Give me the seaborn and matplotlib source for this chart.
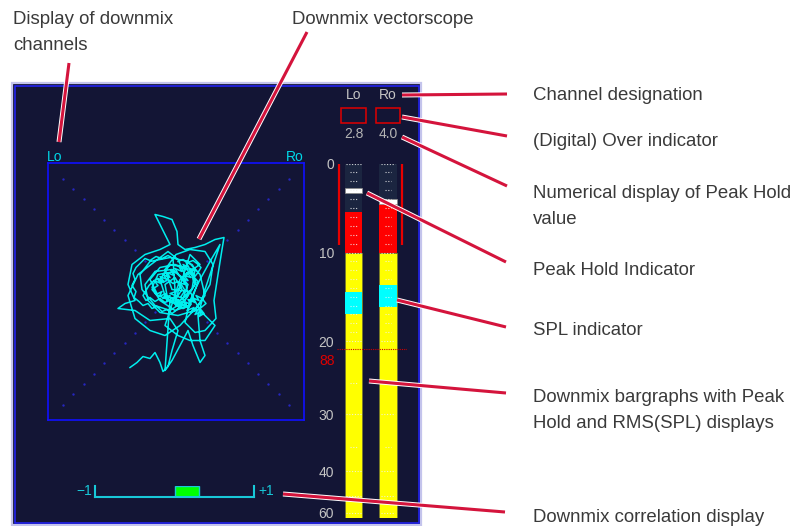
import numpy as np
import matplotlib
matplotlib.use("Agg")
import matplotlib.pyplot as plt
import matplotlib.transforms as mtransforms
import matplotlib.patheffects as pe
from matplotlib.patches import Rectangle
from matplotlib.ticker import NullLocator
import seaborn as sns

W, H = 795, 526

# bargraph (dB below full scale)
channels = ["Lo", "Ro"]
level_db = [5.5, 4.6]          # top of lit bar
peak_hold_db = [2.8, 4.0]
peak_hold_text = ["2.8", "4.0"]
spl_db = [14.5, 13.7]          # SPL (RMS) marker
ref_db = 21.0
ref_label = "88"
scale_ticks = [0, 10, 20, 30, 40, 60]
long_marks = [0, 10, 20, 30, 40, 50, 60]
short_marks = [1, 2, 3, 4, 5, 6, 7, 8, 9, 11, 12, 13, 14, 15, 16, 17, 18, 19, 25, 35]
correlation = 0.31

# vectorscope trace, scope units (full scale +-128)
trace_x = [-46, -39, -33, -26, -21, -16, -13, -8, -4, 2, -6, -26, -41, -58, -51,
           -41, -48, -44, -31, -16, -6, -11, -16, -21, -13, -4, 1, 2, 9, 19,
           29, 39, 48, 46, 42, 38, 40, 29, 19, 9, 14, 24, 34, 44, 39,
           29, 22, 24, 29, 24, 17, 12, 4, -4, -11,
           -6, -18, -26, -16, -1, 14, 19, 9, -6, -21, -34, -36, -26, -6, 12,
           24, 29, 19, 2, -16, -28, -31, -21, -4, 9, 12, 4, -8, -11, -1,
           6, 0, 14, 24, 9, 2, -8, -21, -38, -48, -41, -26, -11, 4, 22,
           34, 37, 29, 14, 0, -11, -4, 14, 24, 39, 29, 14, 2, -11,
           4, 19, 16, 4, -11, -16, -6, 9, 22, 14, -1, -16, -24, -18, -1, 12, 7, -6,
           0, 5, 3, 9, 6, 12, 8, 15, 11, 18, 14, 20, 16, 10, 13, 7, 10, 3, 6, -1,
           2, -5, -2, -9, -6, -13, -9, -16, -12, -19, -15, -22, -18, -24, -20, -14, -17, -10, -13, -6,
           -9, -2, -5, 2, -1, 6, 3, 10, 7, 14, 11, 18, 15, 22, 19, 26, 23, 28, 24, 30,
           26, 20, 23, 16, 19, 12, 15, 8, 11, 4, 7, 0,
           -3, -8, -14, -20, -26, -31, -36, -40, -43, -41, -44, -40, -42, -37, -33, -28, -24, -19, -14, -9,
           -4, 0, 4, 8, 5, 9, 6, 2, -3, -8, -13, -18, -23, -27, -30, -33, -30, -26, -21, -16,
           -11, -6, -1, 4, 9, 13, 17, 20, 18, 22, 25, 21, 17, 12, 7, 2]
trace_y = [-76, -71, -65, -67, -61, -71, -80, -75, -59, -39, -27, -29, -19, -17, -12,
           -9, 7, 27, 37, 42, 47, 57, 67, 77, 75, 72, 60, 47, 42, 44,
           47, 52, 54, 42, 17, -9, -27, -39, -41, -31, -9, 12, 30, 47, 32,
           2, -24, -49, -64, -71, -54, -39, -54, -69, -79,
           -9, -4, 12, 24, 27, 22, 7, -9, -19, -14, 2, 17, 30, 34, 30,
           17, -4, -19, -24, -21, -9, 7, 20, 22, 12, -4, -14, -9, 7, 14,
           2, -7, 37, 27, 17, 32, 40, 30, 17, -4, -27, -39, -44, -34, -14,
           7, 27, 40, 42, 37, 22, 2, 0, -19, -34, -49, -49, -44, -34,
           12, 22, 2, -9, -4, 12, 27, 24, 10, -14, -19, -9, 4, 17, 20, 7, -7, -2,
           0, 4, 9, 7, 13, 11, 16, 14, 19, 17, 23, 21, 27, 29, 24, 27, 22, 25, 20, 23,
           18, 21, 16, 19, 14, 17, 12, 15, 10, 13, 8, 11, 6, 2, -3, 0, -5, -2, -7, -4,
           -9, -6, -11, -8, -13, -10, -15, -12, -17, -14, -19, -16, -21, -18, -23, -20, -25, -22, -17, -12,
           -7, -4, -9, -6, -11, -8, -13, -10, -15, -12, -17, -14,
           33, 36, 33, 35, 31, 33, 28, 24, 18, 12, 6, 0, -6, -10, -14, -12, -17, -15, -20, -18,
           -22, -19, -15, -10, -5, 1, 6, 10, 8, 12, 9, 13, 10, 6, 1, -4, -9, -6, -10, -7,
           -11, -8, -12, -9, -5, -1, 4, 9, 14, 19, 24, 28, 31, 29, 32, 30]

# meter scale is not linear: dB -> pixels below the 0 mark
meter_db = [0, 10, 20, 25, 30, 35, 40, 50, 60, 70]
meter_pos = [0, 89, 177.5, 219.5, 250.5, 283.5, 307.5, 332.5, 349, 365.5]

# callout texts (x, baseline) and leader lines
labels = [
    ("Display of downmix", 13, 23.5),
    ("channels", 13, 49.5),
    ("Downmix vectorscope", 292, 23.5),
    ("Channel designation", 533, 100),
    ("(Digital) Over indicator", 533, 146.5),
    ("Numerical display of Peak Hold", 533, 198.5),
    ("value", 533, 224.5),
    ("Peak Hold Indicator", 533, 275),
    ("SPL indicator", 533, 335),
    ("Downmix bargraphs with Peak", 533, 401.5),
    ("Hold and RMS(SPL) displays", 533, 427.5),
    ("Downmix correlation display", 533, 522),
]
leaders = [
    ((69, 63), (59, 142)),
    ((307, 32), (199, 239)),
    ((402, 95), (507, 94)),
    ((402, 117), (507, 136)),
    ((402, 137), (507, 186)),
    ((367, 193), (506, 262)),
    ((397, 300), (506, 327)),
    ((369, 381), (506, 393)),
    ((283, 494), (505, 512)),
]

BG = "#131535"
CYAN = "#00eeee"
CORR = "#18c8d8"
GREY = "#c4c4c4"


def rect(x0, y0, x1, y1):
    return [x0 / W, 1 - y1 / H, (x1 - x0) / W, (y1 - y0) / H]


fig = plt.figure(figsize=(W / 100, H / 100), dpi=100)

# background / panel
bg = fig.add_axes([0, 0, 1, 1])
bg.set_xlim(0, W)
bg.set_ylim(H, 0)
bg.axis("off")
bg.add_patch(Rectangle((12, 83), 409, 442, fc=BG, ec="#c4c4ec", lw=1.6))
bg.add_patch(Rectangle((14.5, 85.5), 404, 437, fc="none", ec="#2323ff", lw=1.1))

# vectorscope
sc = fig.add_axes(rect(48, 163, 304, 420))
sc.set_facecolor("none")
diag = np.linspace(-113, 113, 23)
sc.scatter(diag, diag, s=3, c="#2626c0", lw=0)
sc.scatter(diag, -diag, s=3, c="#2626c0", lw=0)
sns.lineplot(x=trace_x, y=trace_y, sort=False, estimator=None, color=CYAN, lw=1.1, ax=sc)
sc.set_xlim(-128, 128)
sc.set_ylim(-128.5, 128.5)
sc.set_xticks([])
sc.set_yticks([])
for s in sc.spines.values():
    s.set_color("#1010ff")
    s.set_linewidth(1.2)
bg.text(47, 157, "Lo", color="#00d8e8", fontsize=10, family="Liberation Sans", va="center")
bg.text(304, 157, "Ro", color="#00d8e8", fontsize=10, family="Liberation Sans", va="center", ha="right")

# bargraphs
mb = fig.add_axes(rect(337, 163.5, 407, 518))
mb.set_facecolor("none")
mb.set_yscale("function", functions=(lambda v: np.interp(v, meter_db, meter_pos),
                                     lambda p: np.interp(p, meter_pos, meter_db)))
mb.set_ylim(63.3, 0)
mb.set_xlim(-0.478, 1.551)
for i in range(len(channels)):
    mb.bar(i, level_db[i], bottom=0, width=0.5, color="#1b2540")
    mb.bar(i, 10 - level_db[i], bottom=level_db[i], width=0.5, color="#ff0000")
    mb.bar(i, 53.3, bottom=10, width=0.5, color="#ffff00", ec="#77772a", lw=0.6)
    mb.bar(i, 2.4, bottom=spl_db[i], width=0.5, color="#00ffff")
    mb.bar(i, 0.5, bottom=peak_hold_db[i], width=0.5, color="white", ec="#888888", lw=0.5)
    mb.hlines(long_marks, i - 0.21, i + 0.21, colors="#f0f0f0", linestyles=(0, (1, 1.5)),
              lw=0.8, alpha=0.85, zorder=5)
    mb.hlines(short_marks, i - 0.1, i + 0.1, colors="#f0f0f0", linestyles=(0, (1, 1.5)),
              lw=0.8, alpha=0.85, zorder=5)
mb.vlines([-0.42, 1.406], 0, 9.2, colors="#e80000", lw=1.6, clip_on=False)
mb.hlines(ref_db, -0.478, 1.551, colors="#cc0000", linestyles=(0, (1, 1)), lw=0.8)
mb.text(-0.54, 22.4, ref_label, ha="right", va="center", color="#dd0000",
        fontsize=10, family="Liberation Sans")
mb.set_yticks(scale_ticks)
mb.set_yticklabels([str(t) for t in scale_ticks], family="Liberation Sans")
mb.yaxis.set_minor_locator(NullLocator())
mb.tick_params(axis="y", length=0, pad=2.2, labelcolor=GREY, labelsize=10)
mb.set_xticks([])
for s in mb.spines.values():
    s.set_visible(False)

# channel header, over boxes, peak hold values
tr = mtransforms.blended_transform_factory(mb.transData, bg.transData)
for i, ch in enumerate(channels):
    bg.text(i, 95, ch, transform=tr, ha="center", va="center", color=GREY,
            fontsize=10, family="Liberation Sans")
    bg.add_patch(Rectangle((i - 0.36, 108), 0.72, 15, transform=tr, fc="none", ec="#e00000", lw=1.1))
    bg.text(i, 134, peak_hold_text[i], transform=tr, ha="center", va="center", color="#b4b4b4",
            fontsize=10, family="Liberation Sans")

# correlation
cr = fig.add_axes(rect(95, 486, 254, 497))
cr.set_facecolor("none")
cr.barh(0.5, correlation, left=0, height=1.0, color="#00ff00", ec=CORR, lw=1)
cr.set_xlim(-1, 1)
cr.set_ylim(0, 1)
cr.set_xticks([])
cr.set_yticks([])
cr.spines["top"].set_visible(False)
for k in ["left", "right", "bottom"]:
    cr.spines[k].set_color(CORR)
    cr.spines[k].set_linewidth(1.5)
bg.text(92, 491, "\u22121", ha="right", va="center", color=CORR, fontsize=10, family="Liberation Sans")
bg.text(258, 491, "+1", ha="left", va="center", color=CORR, fontsize=10, family="Liberation Sans")

# callouts on top
fg = fig.add_axes([0, 0, 1, 1])
fg.set_xlim(0, W)
fg.set_ylim(H, 0)
fg.axis("off")
fg.patch.set_alpha(0)
for (x0, y0), (x1, y1) in leaders:
    fg.plot([x0, x1], [y0, y1], color="#d4143c", lw=2.2, solid_capstyle="butt",
            path_effects=[pe.Stroke(linewidth=3.6, foreground="white"), pe.Normal()])
for txt, x, y in labels:
    fg.text(x, y, txt, fontsize=13.4, color="#3a3a3a", family="Liberation Sans", va="baseline")

fig.savefig("out.png", dpi=100)
